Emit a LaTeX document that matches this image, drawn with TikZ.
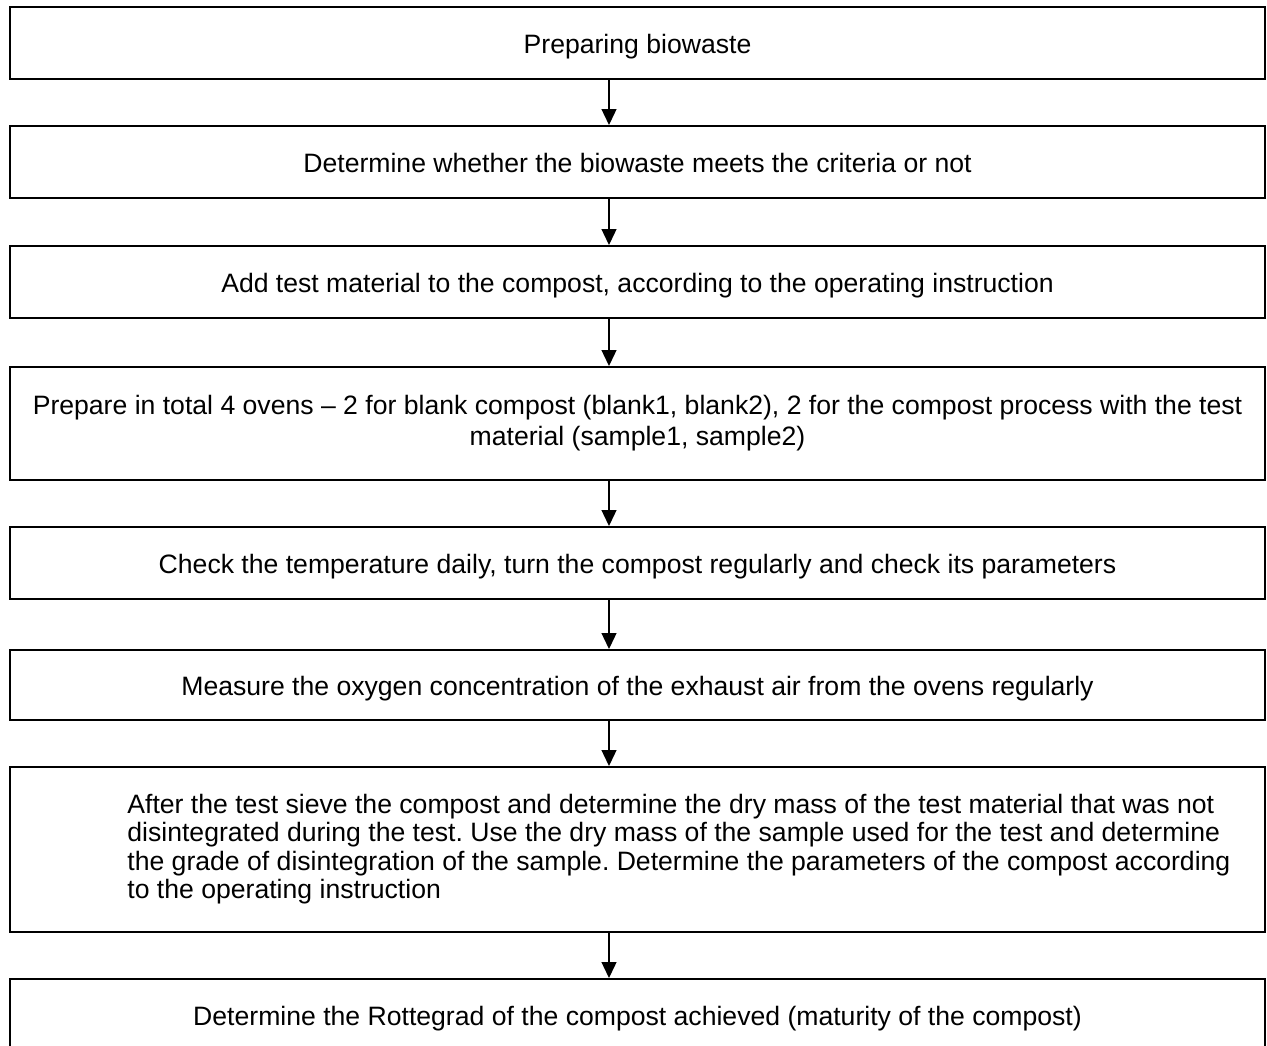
\documentclass[tikz,border=0pt]{standalone}
\usepackage{fontspec}
\setmainfont{Liberation Sans}
\usetikzlibrary{arrows.meta}

\begin{document}
\frenchspacing
\begin{tikzpicture}[x=.5pt,y=-.5pt,font=\fontsize{13.3}{14.25}\selectfont,
stepbox/.style={draw,line width=1pt,minimum width=627.5pt,inner sep=0pt,align=center},
oneline/.style={text height=12pt,text depth=2pt},
arr/.style={line width=.65pt,-{Triangle[width=7.5pt,length=8pt]}}]
\useasboundingbox(0,0)rectangle(1267,1045);
\begin{scope}[every node/.style={stepbox}]
\node[oneline,minimum height=36pt](s1)at(637.5,43){Preparing biowaste};
\node[oneline,minimum height=36pt](s2)at(637.5,162){Determine whether the biowaste meets the criteria or not};
\node[oneline,minimum height=36pt](s3)at(637.5,282){Add test material to the compost, according to the operating instruction};
\node[minimum height=56.5pt](s4)at(637.5,423.5){\raisebox{3pt}{\shortstack{Prepare in total 4 ovens -- 2 for blank compost (blank1, blank2), 2 for the compost process with the test\\material (sample1, sample2)}}};
\node[oneline,minimum height=36pt](s5)at(637.5,563){Check the temperature daily, turn the compost regularly and check its parameters};
\node[oneline,minimum height=35pt](s6)at(637.5,685){Measure the oxygen concentration of the exhaust air from the ovens regularly};
\node[minimum height=82.5pt](s7)at(637.5,849.5){};
\node[oneline,minimum height=36pt](s8)at(637.5,1015){Determine the Rottegrad of the compost achieved (maturity of the compost)};
\end{scope}
\node[anchor=west,align=left,inner sep=0pt](t7)at(127,849){After the test sieve the compost and determine the dry mass of the test material that was not\\disintegrated during the test. Use the dry mass of the sample used for the test and determine\\the grade of disintegration of the sample. Determine the parameters of the compost according\\to the operating instruction};
\coordinate(ax)at(609,0);
\foreach\a/\b in{s1/s2,s2/s3,s3/s4,s4/s5,s5/s6,s6/s7,s7/s8}\draw[arr](\a.south-|ax)--(\b.north-|ax);
\end{tikzpicture}
\end{document}
